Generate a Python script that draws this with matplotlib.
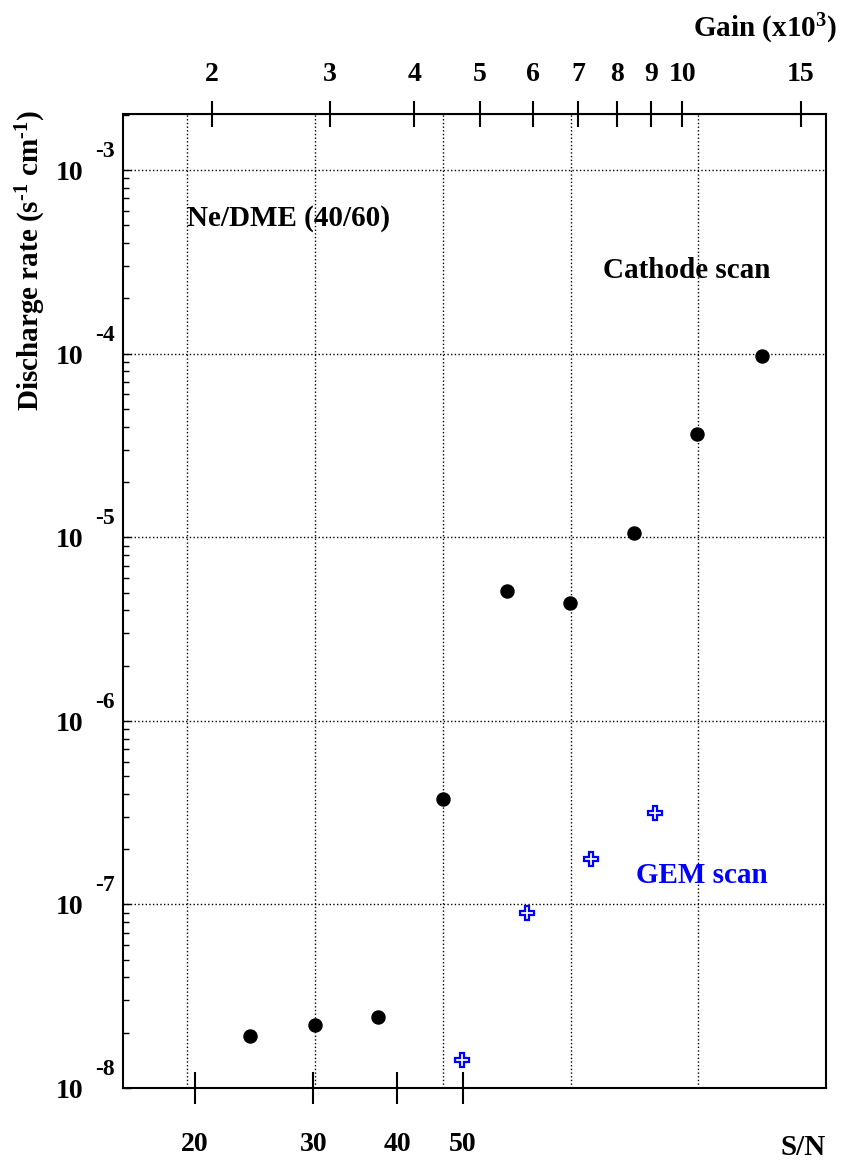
import numpy as np
import matplotlib
matplotlib.use("Agg")
import matplotlib.pyplot as plt
from matplotlib.ticker import NullLocator, LogLocator

plt.rcParams["font.family"] = ["Liberation Serif", "DejaVu Serif"]
plt.rcParams["font.weight"] = "bold"
plt.rcParams["mathtext.default"] = "regular"

# --- values ---
cathode_sn   = [24.2, 30.2, 37.5, 46.7, 58.2, 72.2, 89.8, 111.4, 139.3]
cathode_rate = [1.92e-8, 2.20e-8, 2.44e-8, 3.74e-7, 5.09e-6, 4.38e-6, 1.05e-5, 3.65e-5, 9.7e-5]
gem_sn   = [49.9, 62.3, 77.5, 96.5]
gem_rate = [1.42e-8, 9.0e-8, 1.76e-7, 3.16e-7]

sn_ticks   = [20, 30, 40, 50]
gain_ticks = [2, 3, 4, 5, 6, 7, 8, 9, 10, 15]
decades    = [-8, -7, -6, -5, -4, -3]
grid_sn    = [19.45, 30.17, 46.75, 72.43, 111.8]   # vertical grid lines (S/N)

SN_PER_GAIN = 10.6   # S/N per gain of 1000

# --- figure ---
fig = plt.figure(figsize=(8.42, 11.64), dpi=100)
ax = fig.add_axes([123 / 842, 76 / 1164, 703 / 842, 974 / 1164])
ax.set_xscale("log")
ax.set_yscale("log")
ax.set_xlim(15.65, 173.3)
ax.set_ylim(1e-8, 2.02e-3)

ax.plot(cathode_sn, cathode_rate, "o", color="k", ms=9.4, zorder=3)
ax.plot(gem_sn, gem_rate, "P", mfc="white", mec="blue", ms=10, mew=1.6, zorder=3)

# grid
ax.yaxis.set_major_locator(LogLocator(base=10, numticks=20))
ax.yaxis.set_minor_locator(LogLocator(base=10, subs=np.arange(2, 10), numticks=20))
ax.yaxis.grid(True, which="major", ls=":", color="k", lw=1)
for g in grid_sn:
    ax.axvline(g, ls=":", color="k", lw=1, zorder=1)

# bottom axis (S/N)
ax.set_xticks(sn_ticks, [str(t) for t in sn_ticks])
ax.xaxis.set_minor_locator(NullLocator())
ax.tick_params(axis="x", which="major", direction="inout", length=23, width=1.5,
               labelsize=20, pad=20, top=False)

# left axis: ticks only, ROOT-style labels drawn by hand
ax.tick_params(axis="y", which="major", direction="in", length=6, width=1,
               labelleft=False, right=False)
ax.tick_params(axis="y", which="minor", direction="in", length=4, width=1, right=False)
for d in decades:
    ax.annotate("10", xy=(0, 10.0 ** d), xycoords=("axes fraction", "data"),
                xytext=(-28.8, -7.2), textcoords="offset points",
                ha="right", va="baseline", fontsize=20)
    ax.annotate(f"{d}", xy=(0, 10.0 ** d), xycoords=("axes fraction", "data"),
                xytext=(-20.2, 9.4), textcoords="offset points",
                ha="left", va="baseline", fontsize=17)

for s in ax.spines.values():
    s.set_linewidth(1.5)

# top axis (gain)
sec = ax.secondary_xaxis("top", functions=(lambda s: s / SN_PER_GAIN,
                                           lambda g: g * SN_PER_GAIN))
sec.set_xticks(gain_ticks, [str(g) for g in gain_ticks])
sec.xaxis.set_minor_locator(NullLocator())
sec.tick_params(direction="inout", length=19, width=1.5, labelsize=20, pad=10)

# annotations
ax.text(0.091, 0.885, "Ne/DME (40/60)", transform=ax.transAxes, fontsize=21, va="baseline")
ax.text(0.6828, 0.8316, "Cathode scan", transform=ax.transAxes, fontsize=21, va="baseline")
ax.text(0.7297, 0.2105, "GEM scan", transform=ax.transAxes, fontsize=21, va="baseline",
        color="blue")

fig.text(31 / 842, 1 - 260 / 1164, "Discharge rate (s$^{\u20101}$ cm$^{\u20101}$)",
         rotation=90, ha="center", va="center", fontsize=21)
fig.text(0.994, 0.968, "Gain (x10$^{3}$)", ha="right", va="baseline", fontsize=21)
fig.text(0.981, 0.0077, "S/N", ha="right", va="baseline", fontsize=21)

fig.savefig("out.png", dpi=100)
